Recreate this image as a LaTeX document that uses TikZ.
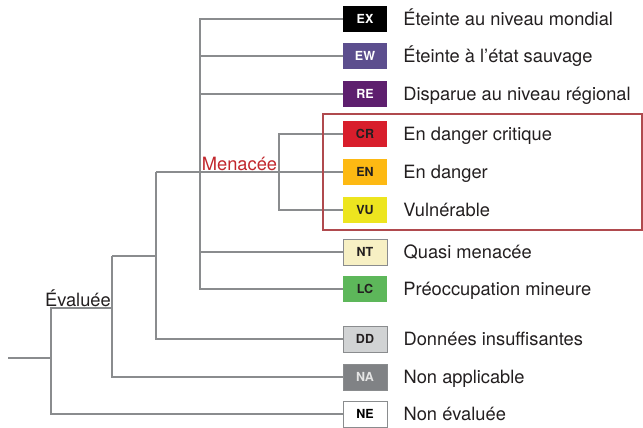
\documentclass[tikz,border=0pt]{standalone}
\usepackage{fontspec}
\setmainfont{TeX Gyre Heros}
\usepackage{tikz}
\usetikzlibrary{positioning, calc}
\definecolor{branchgray}{HTML}{8A8C8E}
\definecolor{menacered}{HTML}{C1272D}
\definecolor{menaceframe}{HTML}{B04A4E}
\definecolor{labelink}{HTML}{231F20}
\definecolor{cEX}{HTML}{000000}
\definecolor{cEW}{HTML}{5C4E8E}
\definecolor{cRE}{HTML}{5E1F6E}
\definecolor{cCR}{HTML}{D81E2C}
\definecolor{cEN}{HTML}{FDB913}
\definecolor{cVU}{HTML}{EDE51F}
\definecolor{cNT}{HTML}{F7F0C4}
\definecolor{cLC}{HTML}{5DB75A}
\definecolor{cDD}{HTML}{D1D3D4}
\definecolor{cNA}{HTML}{808285}
\definecolor{cNE}{HTML}{FFFFFF}
\tikzset{category/.style={minimum width=44pt, minimum height=26pt, inner sep=0pt, font=\fontsize{12.5}{13}\selectfont\bfseries}}
\tikzset{boxed/.append style={draw=branchgray, line width=0.8pt}}
\tikzset{catlabel/.style={anchor=base west, inner sep=0pt, text=labelink, font=\fontsize{18.3}{20}\selectfont}}
\tikzset{branch/.style={draw=branchgray, line width=1.1pt}}

\begin{document}
\begin{tikzpicture}[x=1pt, y=-1pt]

      \useasboundingbox (0,0) rectangle (643,428);

      % CATEGORIES

      \node[category, fill=cEX, text=white] (ex) at (365,19) {EX};
      \node[category, fill=cEW, text=white] (ew) at (365,56) {EW};
      \node[category, fill=cRE, text=white] (re) at (365,94) {RE};
      \node[category, fill=cCR, text=labelink] (cr) at (365,134) {CR};
      \node[category, fill=cEN, text=labelink] (en) at (365,172) {EN};
      \node[category, fill=cVU, text=labelink] (vu) at (365,210) {VU};
      \node[category, boxed, fill=cNT, text=labelink] (nt) at (365,252) {NT};
      \node[category, fill=cLC, text=labelink] (lc) at (365,289) {LC};
      \node[category, boxed, fill=cDD, text=labelink] (dd) at (365,339) {DD};
      \node[category, boxed, fill=cNA, text=black!10] (na) at (365,377) {NA};
      \node[category, boxed, fill=cNE, text=black] (ne) at (365,414) {NE};

      % LABELS

      \node[catlabel] (exLabel) at ($(ex.east)+(16,6.5)$) {Éteinte au niveau mondial};
      \node[catlabel] (ewLabel) at ($(ew.east)+(16,6.5)$) {Éteinte à l’état sauvage};
      \node[catlabel] (reLabel) at ($(re.east)+(16,6.5)$) {Disparue au niveau régional};
      \node[catlabel] (crLabel) at ($(cr.east)+(16,6.5)$) {En danger critique};
      \node[catlabel] (enLabel) at ($(en.east)+(16,6.5)$) {En danger};
      \node[catlabel] (vuLabel) at ($(vu.east)+(16,6.5)$) {Vulnérable};
      \node[catlabel] (ntLabel) at ($(nt.east)+(16,6.5)$) {Quasi menacée};
      \node[catlabel] (lcLabel) at ($(lc.east)+(16,6.5)$) {Préoccupation mineure};
      \node[catlabel] (ddLabel) at ($(dd.east)+(16,6.5)$) {Données insuffisantes};
      \node[catlabel] (naLabel) at ($(na.east)+(16,6.5)$) {Non applicable};
      \node[catlabel] (neLabel) at ($(ne.east)+(16,6.5)$) {Non évaluée};

      % BRANCHES

      \coordinate (root) at (8,358);
      \coordinate (b1) at (51,358);
      \coordinate (ev) at (112,308);
      \coordinate (b2) at (112,256);
      \coordinate (b3) at (156,256);
      \coordinate (b4) at (156,172);
      \coordinate (b5) at (200,172);
      \coordinate (b6) at (279,172);

      \draw[branch] (root) -- (b1);
      \draw[branch] (b1) |- (ev);
      \draw[branch] (b1) |- (ne.west);
      \draw[branch] (b2) |- (na.west);
      \draw[branch] (b2) -- (b3);
      \draw[branch] (b4) |- (dd.west);
      \draw[branch] (b4) -- (en.west);
      \draw[branch] (b5) |- (ex.west);
      \draw[branch] (b5) |- (lc.west);
      \draw[branch] (ew.west -| b5) -- (ew.west);
      \draw[branch] (re.west -| b5) -- (re.west);
      \draw[branch] (nt.west -| b5) -- (nt.west);
      \draw[branch] (b6) |- (cr.west);
      \draw[branch] (b6) |- (vu.west);

      % GROUPS

      \node[anchor=south east, inner sep=1pt, text=labelink, font=\fontsize{18.3}{20}\selectfont] (evLabel) at (ev) {Évaluée};
      \node[anchor=south, inner sep=1.5pt, text=menacered, font=\fontsize{18.3}{20}\selectfont] (meLabel) at ($(b5)!0.5!(b6)$) {Menacée};
      \draw[menaceframe, line width=1.1pt] (323,114) rectangle (642,230);

    \end{tikzpicture}
\end{document}
